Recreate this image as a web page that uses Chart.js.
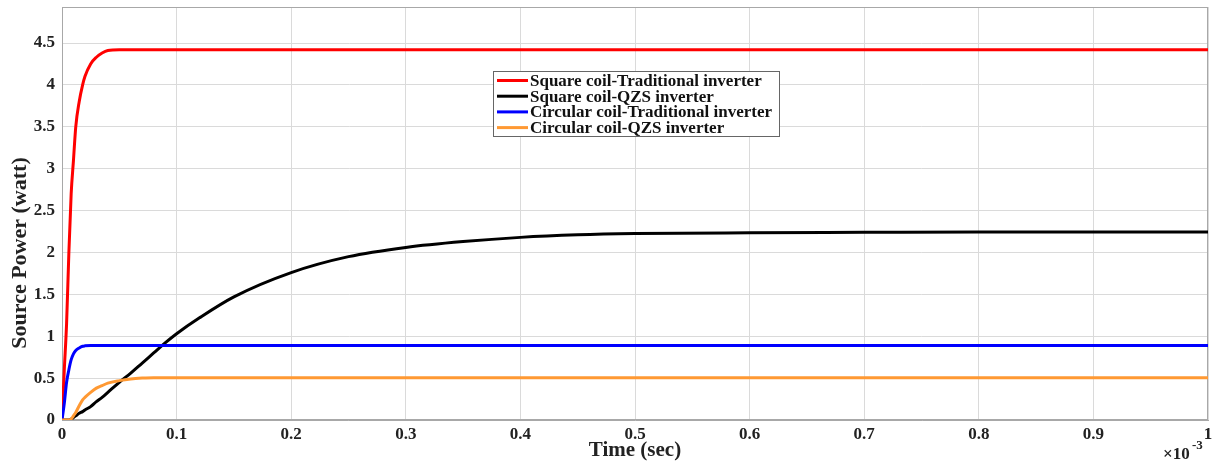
<!DOCTYPE html>
<html lang="en">
<head>
<meta charset="UTF-8">
<meta name="viewport" content="width=device-width, initial-scale=1.0">
<title>Source Power</title>
<style>
    html, body { margin: 0; padding: 0; background: #fff; }
    #wrap { width: 1222px; height: 465px; }
</style>
</head>
<body>

<div id="wrap"><canvas id="myChart"></canvas></div>

<script src="https://cdn.jsdelivr.net/npm/chart.js"></script>

<script>
    // time in units of 1e-3 s
    const timeMs = [0, 0.002, 0.004, 0.006, 0.008, 0.01, 0.012, 0.015, 0.018, 0.02, 0.025, 0.03, 0.035, 0.04, 0.05, 0.06, 0.07, 0.08, 0.09, 0.1, 0.12, 0.15, 0.2, 0.25, 0.3, 0.35, 0.4, 0.45, 0.5, 0.6, 0.7, 0.8, 0.9, 1.0]

    const squareTraditional = [0, 0.6, 1.15, 2.0, 2.7, 3.1, 3.5, 3.8, 4.0, 4.1, 4.25, 4.33, 4.38, 4.41, 4.42, 4.42, 4.42, 4.42, 4.42, 4.42, 4.42, 4.42, 4.42, 4.42, 4.42, 4.42, 4.42, 4.42, 4.42, 4.42, 4.42, 4.42, 4.42, 4.42]
    const squareQZS = [0, 0, 0, 0, 0.01, 0.03, 0.05, 0.08, 0.1, 0.12, 0.16, 0.22, 0.27, 0.33, 0.45, 0.56, 0.68, 0.8, 0.92, 1.03, 1.22, 1.47, 1.76, 1.95, 2.06, 2.13, 2.18, 2.21, 2.225, 2.235, 2.24, 2.245, 2.245, 2.245]
    const circularTraditional = [0, 0.2, 0.45, 0.6, 0.72, 0.79, 0.83, 0.86, 0.88, 0.885, 0.89, 0.89, 0.89, 0.89, 0.89, 0.89, 0.89, 0.89, 0.89, 0.89, 0.89, 0.89, 0.89, 0.89, 0.89, 0.89, 0.89, 0.89, 0.89, 0.89, 0.89, 0.89, 0.89, 0.89]
    const circularQZS = [0, 0, 0, 0, 0.01, 0.05, 0.09, 0.17, 0.24, 0.27, 0.33, 0.38, 0.41, 0.44, 0.47, 0.49, 0.5, 0.505, 0.505, 0.505, 0.505, 0.505, 0.505, 0.505, 0.505, 0.505, 0.505, 0.505, 0.505, 0.505, 0.505, 0.505, 0.505, 0.505]

    const seriesLabels = ['Square coil-Traditional inverter', 'Square coil-QZS inverter', 'Circular coil-Traditional inverter', 'Circular coil-QZS inverter']
    const seriesColors = ['#ff0000', '#000000', '#0000ff', '#ff9933']
    const seriesValues = [squareTraditional, squareQZS, circularTraditional, circularQZS]

    const serif = "'Liberation Serif', 'Times New Roman', serif"

    function points(values) {
        return timeMs.map((t, i) => ({x: t, y: values[i]}))
    }

    // frame around the plot area (MATLAB box)
    const framePlugin = {
        id: 'frame',
        beforeDatasetsDraw(chart) {
            const a = chart.chartArea
            const c = chart.ctx
            c.save()
            c.strokeStyle = '#a8a8a8'
            c.lineWidth = 1
            c.strokeRect(a.left + 0.5, a.top + 0.5, a.right - a.left - 1, a.bottom - a.top - 1)
            c.restore()
        }
    }

    // legend box, y title and the x10^-3 exponent
    const extrasPlugin = {
        id: 'extras',
        afterDraw(chart) {
            const c = chart.ctx
            c.save()

            // legend
            const lx = 493, ly = 71, lw = 286, lh = 65
            c.fillStyle = '#fff'
            c.fillRect(lx, ly, lw, lh)
            c.strokeStyle = '#666'
            c.lineWidth = 1
            c.strokeRect(lx + 0.5, ly + 0.5, lw, lh)
            c.font = "bold 17px " + serif
            c.textBaseline = 'middle'
            c.textAlign = 'left'
            chart.data.datasets.forEach((ds, i) => {
                const y = 80.5 + i * 15.7
                c.strokeStyle = ds.borderColor
                c.lineWidth = 3
                c.beginPath()
                c.moveTo(497, y)
                c.lineTo(528, y)
                c.stroke()
                c.fillStyle = '#111'
                c.fillText(ds.label, 530, y + 1)
            })

            // y axis title
            c.translate(20, 253)
            c.rotate(-Math.PI / 2)
            c.font = "bold 22px " + serif
            c.textAlign = 'center'
            c.fillStyle = '#222'
            c.fillText('Source Power (watt)', 0, 0)
            c.setTransform(1, 0, 0, 1, 0, 0)

            // exponent
            c.font = "bold 17px " + serif
            c.textAlign = 'left'
            c.fillStyle = '#222'
            c.fillText('\u00d710', 1163, 455)
            c.font = "bold 13px " + serif
            c.fillText('-3', 1192, 446)

            c.restore()
        }
    }

    const ctx = document.getElementById('myChart')

    new Chart(ctx, {
        type: 'line',
        data: {
            datasets: seriesValues.map((vals, i) => ({
                label: seriesLabels[i],
                data: points(vals),
                borderColor: seriesColors[i],
                backgroundColor: seriesColors[i],
                borderWidth: 3,
                pointRadius: 0,
                cubicInterpolationMode: 'monotone',
                fill: false,
                order: 4 - i
            }))
        },
        options: {
            responsive: true,
            maintainAspectRatio: false,
            animation: false,
            layout: {padding: {top: 7, right: 14, left: 0, bottom: 0}},
            plugins: {
                legend: {display: false},
                tooltip: {enabled: false}
            },
            scales: {
                x: {
                    type: 'linear',
                    min: 0,
                    max: 1,
                    afterFit: (scale) => {
                        scale.height = 45
                        scale.paddingLeft = 0
                        scale.paddingRight = 0
                    },
                    ticks: {
                        stepSize: 0.1,
                        padding: 4,
                        color: '#222',
                        maxRotation: 0,
                        font: {family: serif, size: 17, weight: 'bold'},
                        callback: (v) => String(Math.round(v * 10) / 10)
                    },
                    grid: {color: '#dadada', drawTicks: false},
                    border: {display: true, color: '#a8a8a8'},
                    title: {
                        display: true,
                        text: 'Time (sec)',
                        color: '#222',
                        padding: {top: 0, bottom: 2},
                        font: {family: serif, size: 21, weight: 'bold'}
                    }
                },
                y: {
                    min: 0,
                    max: 4.93,
                    afterFit: (scale) => {
                        scale.width = 62
                        scale.paddingTop = 0
                        scale.paddingBottom = 0
                    },
                    afterBuildTicks: (scale) => {
                        scale.ticks = scale.ticks.filter(t => t.value <= 4.5 + 1e-9)
                    },
                    ticks: {
                        stepSize: 0.5,
                        padding: 7,
                        color: '#222',
                        font: {family: serif, size: 17, weight: 'bold'},
                        callback: (v) => String(Math.round(v * 10) / 10)
                    },
                    grid: {color: '#dadada', drawTicks: false},
                    border: {display: true, color: '#a8a8a8'}
                }
            }
        },
        plugins: [framePlugin, extrasPlugin]
    })
</script>
</body>
</html>
